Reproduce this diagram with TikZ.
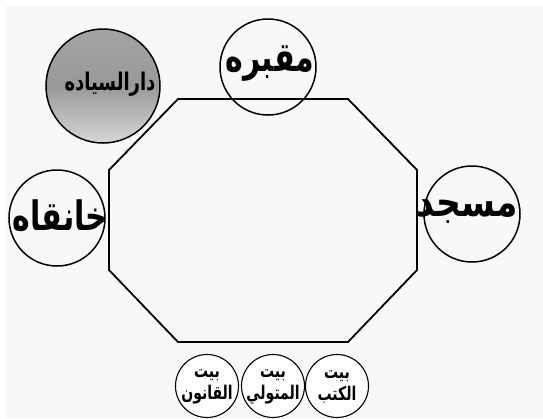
\documentclass[tikz,border=0pt]{standalone}
\usepackage{graphicx}
\usepackage{fontspec}
\newfontfamily\arabicfont[Script=Arabic]{DejaVu Sans}
\TeXXeTstate=1
\newcommand{\artxt}[1]{{\arabicfont\beginR #1\endR}}
\newcommand{\tallar}[2][1]{\scalebox{#1}[1.35]{\artxt{#2}}}
\definecolor{pageBg}{HTML}{F8F7FA}

\begin{document}
\begin{tikzpicture}[
  x=1pt, y=-1pt,
  ring/.style={draw, circle, line width=1.5pt, inner sep=0pt, minimum size=96pt},
  smallring/.style={draw, circle, fill=white, line width=1.1pt, inner sep=0pt, minimum size=63pt},
  bigtxt/.style={font=\fontsize{30}{32}\selectfont\bfseries},
  medtxt/.style={font=\fontsize{18}{20}\selectfont\bfseries},
  smalltxt/.style={font=\fontsize{14}{22}\selectfont\bfseries, align=center}
]
\useasboundingbox (0,0) rectangle (543,418);
\fill[white] (0,0) rectangle (543,418);
\fill[pageBg] (5,6) rectangle (543,418);

% courtyard
\draw[line width=1.8pt] (178,99) -- (348,99) -- (417,170) -- (417,270) -- (348,342)
  -- (178,342) -- (109,270) -- (109,170) -- cycle;

% surrounding buildings
\node[ring, minimum size=114pt, top color=black!36, bottom color=black!16, middle color=black!40]
  (dar) at (103,86) {};
\node[medtxt] (darlab) at (110,84) {\tallar{دارالسياده}};
\node[ring] (maqbara) at (268,67) {};
\node[bigtxt] (maqbaralab) at (270,64) {\tallar{مقبره}};
\node[ring] (khanqah) at (57,218) {};
\node[bigtxt] (khanqahlab) at (60,216) {\tallar{خانقاه}};
\node[ring] (masjid) at (472,214) {};
\node[bigtxt] (masjidlab) at (467,212) {\tallar[1.15]{مسجد}};

% small rooms
\node[smallring] (qanun) at (207,386) {};
\node[smallring] (mutawalli) at (273,386) {};
\node[smallring] (kutub) at (337,386) {};
\node[smalltxt] at (207,387) {\tallar{بيت}\\\tallar{القانون}};
\node[smalltxt] at (273,387) {\tallar{بيت}\\\tallar{المتولي}};
\node[smalltxt] at (337,387) {\tallar{بيت}\\\tallar{الكتب}};
\end{tikzpicture}
\end{document}
